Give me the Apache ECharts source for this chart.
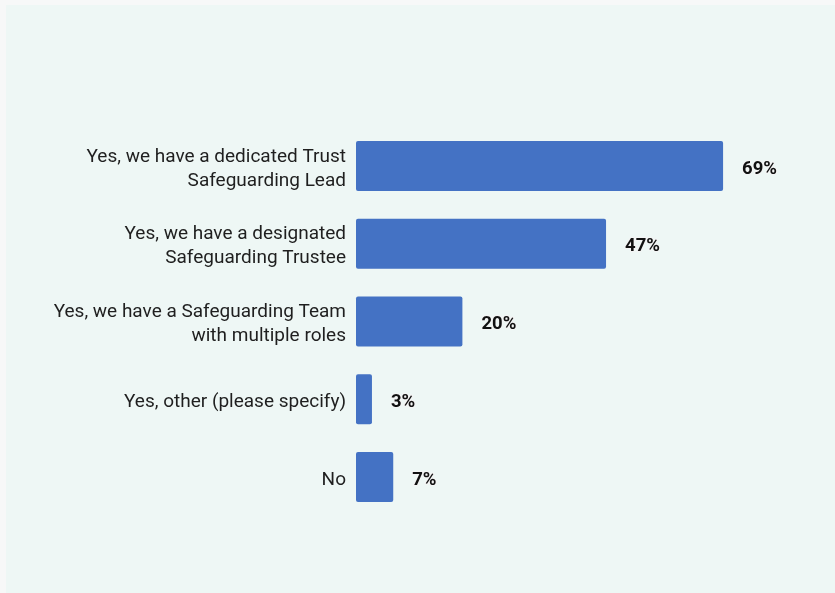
<!DOCTYPE html>
<html>
<head>
<meta charset="utf-8">
<script src="https://cdn.jsdelivr.net/npm/echarts@6/dist/echarts.min.js"></script>
<style>
  html, body { margin: 0; padding: 0; background: #f7f8f8; }
  #chart { position: absolute; left: 6px; top: 5px; width: 829px; height: 588px; background: #eef7f5; }
</style>
</head>
<body>
<div id="chart"></div>
<script>
// Survey answers, top to bottom
const categories = [
  'Yes, we have a dedicated Trust\nSafeguarding Lead',
  'Yes, we have a designated\nSafeguarding Trustee',
  'Yes, we have a Safeguarding Team\nwith multiple roles',
  'Yes, other (please specify)',
  'No'
];
const percentages = [69, 47, 20, 3, 7];

const chart = echarts.init(document.getElementById('chart'), null, { renderer: 'canvas' });

chart.setOption({
  backgroundColor: '#eef7f5',
  animation: false,
  grid: { left: 350, right: 53.4, top: 122, bottom: 77.25 },
  xAxis: {
    type: 'value',
    min: 0,
    max: 80,
    show: false
  },
  yAxis: {
    type: 'category',
    inverse: true,
    data: categories,
    axisLine: { show: false },
    axisTick: { show: false },
    axisLabel: {
      margin: 10,
      align: 'right',
      fontFamily: 'Roboto',
      fontSize: 19,
      lineHeight: 24,
      color: '#1f1f1f',
      // nudge each line a little below the band centre
      formatter: (v) => v.split('\n').map((s) => '{t|' + s + '}').join('\n'),
      rich: {
        t: {
          fontFamily: 'Roboto',
          fontSize: 19,
          lineHeight: 24,
          color: '#1f1f1f',
          padding: [6, 0, 0, 0]
        }
      }
    }
  },
  series: [{
    type: 'bar',
    data: percentages,
    barWidth: 50,
    itemStyle: {
      color: '#4472c4',
      borderRadius: 2
    },
    label: {
      show: true,
      position: 'right',
      distance: 19,
      offset: [0, 3],
      formatter: '{c}%',
      fontFamily: 'Roboto',
      fontWeight: 'bold',
      fontSize: 18.5,
      color: '#111',
      textBorderColor: '#f4f4f4',
      textBorderWidth: 2
    }
  }]
});
</script>
</body>
</html>
